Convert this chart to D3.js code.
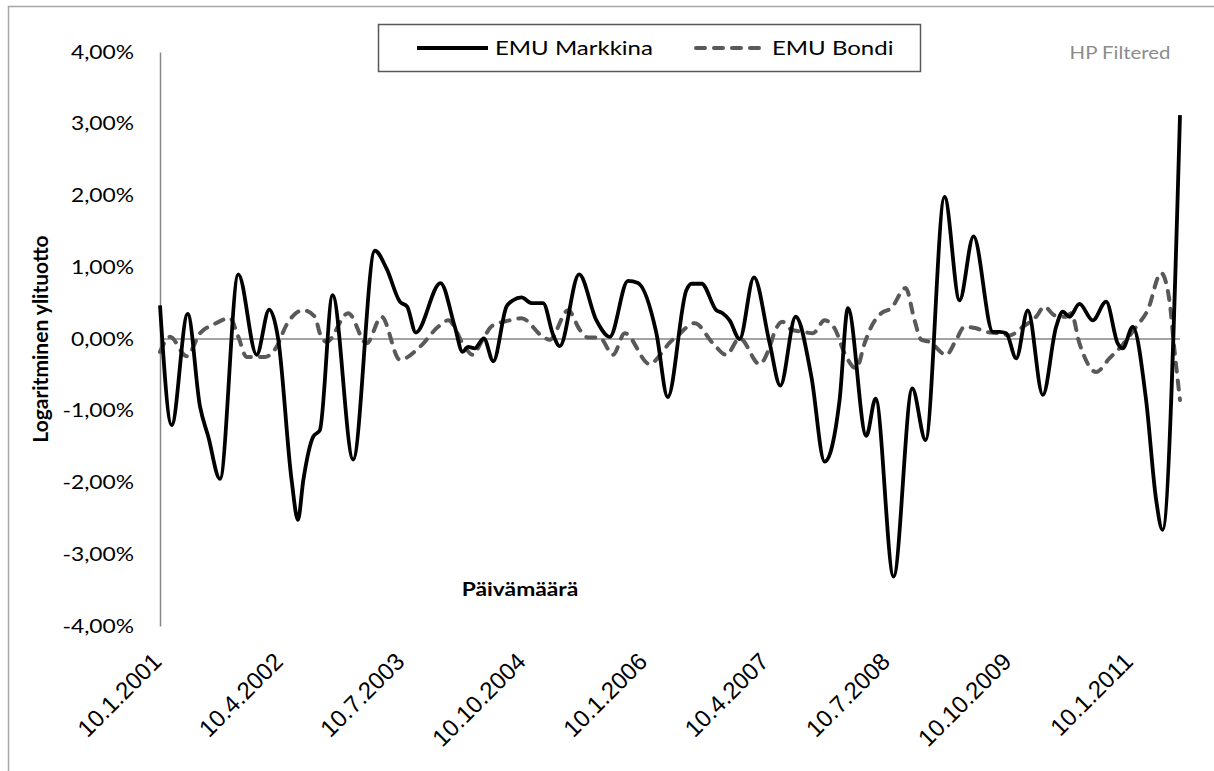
<!DOCTYPE html>
<html>
<head>
<meta charset="utf-8">
<script src="https://cdn.jsdelivr.net/npm/d3@7"></script>
<style>
  body { margin: 0; background: #fff; }
  svg { display: block; }
</style>
</head>
<body>
<div id="chart"></div>
<script>
// x positions are months counted from 10.1.2001
const tickMonths = [0, 15, 30, 45, 60, 75, 90, 105, 120];
const tickLabels = ["10.1.2001", "10.4.2002", "10.7.2003", "10.10.2004", "10.1.2006",
                    "10.4.2007", "10.7.2008", "10.10.2009", "10.1.2011"];
const yTicks = [-4, -3, -2, -1, 0, 1, 2, 3, 4];

// EMU Markkina (%)
const markkinaMonths = [0, 1.44, 3.42, 4.94, 5.96, 7.41, 9.67, 11.94, 13.49, 14.6, 16.26, 17.04, 17.7, 18.93, 19.75,
  21.32, 23.86, 26.54, 27.99, 29.63, 30.53, 31.6, 34.65, 36.42, 37.37, 38.06, 38.89, 40.0, 41.17,
  42.8, 43.62, 44.65, 45.89, 47.32, 48.56, 49.38, 51.77, 53.91, 55.56, 57.81, 59.05, 61.32, 62.72,
  65.02, 65.68, 66.91, 68.73, 69.5, 70.37, 71.6, 73.37, 75.31, 76.63, 78.52, 80.46, 82.1, 83.95,
  84.98, 87.25, 88.4, 90.62, 92.93, 94.57, 96.91, 98.77, 100.49, 102.88, 103.7, 104.53, 105.77,
  107.2, 109.05, 110.7, 111.52, 112.35, 113.58, 115.22, 116.88, 118.3, 118.92, 120.16, 121.81,
  123.05, 123.83, 126];
const markkinaValues = [0.47, -1.20, 0.35, -0.94, -1.36, -1.95, 0.90, -0.22, 0.41, 0.0, -1.97, -2.52, -1.97, -1.36, -1.27,
  0.61, -1.68, 1.23, 0.98, 0.52, 0.45, 0.09, 0.78, 0.17, -0.18, -0.11, -0.13, 0.01, -0.31,
  0.45, 0.54, 0.58, 0.50, 0.50, 0.06, -0.10, 0.90, 0.26, 0.03, 0.81, 0.78, 0.08, -0.81,
  0.68, 0.77, 0.77, 0.40, 0.36, 0.26, 0.0, 0.86, -0.06, -0.65, 0.31, -0.52, -1.71, -0.85,
  0.43, -1.35, -0.83, -3.31, -0.69, -1.41, 1.98, 0.54, 1.43, 0.10, 0.10, 0.08, -0.27,
  0.40, -0.78, 0.17, 0.38, 0.31, 0.49, 0.26, 0.52, -0.06, -0.13, 0.17, -0.85,
  -2.24, -2.66, 3.12];

// EMU Bondi (%)
const bondiMonths = [0, 1.23, 3.3, 4.94, 6.58, 8.64, 9.67, 10.7, 12.96, 14.4, 15.64, 17.69, 19.14, 19.75, 20.58,
  23.25, 25.52, 27.37, 29.63, 32.1, 34.36, 35.59, 37.65, 38.6, 39.91, 40.99, 43.21, 44.65, 47.32,
  48.15, 50.41, 51.85, 52.88, 54.3, 55.96, 57.41, 60.49, 61.94, 62.96, 63.79, 66.05, 68.31, 69.96,
  71.6, 74.07, 75.31, 75.93, 76.88, 77.99, 79.42, 80.65, 82.1, 83.33, 84.57, 86.01, 87.04, 87.86,
  89.1, 90.33, 92.1, 93.21, 94.04, 95.06, 97.12, 98.36, 99.38, 100.83, 102.06, 103.7, 104.94,
  106.58, 108.23, 109.26, 110.5, 111.94, 112.56, 113.58, 115.64, 117.28, 118.92, 120.58, 122.0,
  123.67, 124.69, 125.31, 126];
const bondiValues = [-0.18, 0.03, -0.24, 0.08, 0.20, 0.29, 0.03, -0.25, -0.25, -0.11, 0.20, 0.40, 0.31, 0.08, -0.04,
  0.36, -0.06, 0.31, -0.29, -0.11, 0.17, 0.26, -0.11, -0.22, 0.0, 0.18, 0.26, 0.29, 0.03,
  -0.01, 0.40, 0.13, 0.02, 0.02, -0.22, 0.08, -0.35, -0.20, -0.05, 0.03, 0.22, -0.06, -0.22,
  0.01, -0.35, -0.11, 0.10, 0.24, 0.13, 0.10, 0.08, 0.26, 0.15, -0.20, -0.41, -0.06, 0.17,
  0.36, 0.43, 0.71, 0.26, -0.01, -0.04, -0.22, -0.01, 0.17, 0.15, 0.10, 0.08, 0.05,
  0.17, 0.31, 0.45, 0.33, 0.31, 0.36, -0.06, -0.46, -0.27, -0.08, 0.17, 0.40,
  0.92, 0.54, -0.15, -0.85];

const width = 1214, height = 771;
const margin = { left: 160, right: 34, top: 52, bottom: 145 };
const textFont = "Lato, sans-serif";
const wide = 1.2; // the picture's text is a bit wider than Lato

const svg = d3.select("#chart").append("svg")
    .attr("width", width)
    .attr("height", height);

// outer chart border
svg.append("rect")
    .attr("x", 8.5).attr("y", 6.5)
    .attr("width", width + 20).attr("height", height + 20)
    .attr("fill", "none")
    .attr("stroke", "#a6a6a6")
    .attr("stroke-width", 1.5);

const x = d3.scaleLinear()
    .domain([0, 126])
    .range([margin.left, width - margin.right]);

const y = d3.scaleLinear()
    .domain([-4, 4])
    .range([height - margin.bottom, margin.top]);

const fmt = d => d.toFixed(2).replace(".", ",") + "%";

// y axis
const yAxis = svg.append("g")
    .attr("transform", `translate(${margin.left},0)`)
    .call(d3.axisLeft(y).tickValues(yTicks).tickSize(0).tickFormat(fmt));
yAxis.select(".domain").attr("stroke", "#868686").attr("stroke-width", 1.5);
yAxis.selectAll(".tick text")
    .attr("x", 0)
    .attr("transform", `translate(-26,0) scale(${wide},1)`)
    .attr("font-family", textFont)
    .attr("font-size", 19)
    .attr("fill", "#000");

// zero line
svg.append("line")
    .attr("x1", x(0)).attr("x2", x(126))
    .attr("y1", y(0)).attr("y2", y(0))
    .attr("stroke", "#868686")
    .attr("stroke-width", 1.5);

// x tick labels, rotated
svg.append("g").selectAll("text")
    .data(tickMonths)
    .enter()
  .append("text")
    .attr("transform", function(d) { return `translate(${x(d) + 3},663) rotate(-45)`; })
    .attr("text-anchor", "end")
    .attr("font-family", "Liberation Sans, Arial, sans-serif")
    .attr("font-size", 24)
    .text(function(d, i) { return tickLabels[i]; });

const line = d3.line()
    .x(function(d) { return x(d[0]); })
    .y(function(d) { return y(d[1]); })
    .curve(d3.curveMonotoneX);

const bondi = bondiMonths.map(function(m, i) { return [m, bondiValues[i]]; });
const markkina = markkinaMonths.map(function(m, i) { return [m, markkinaValues[i]]; });

svg.append("path")
    .datum(bondi)
    .attr("d", line)
    .attr("fill", "none")
    .attr("stroke", "#595959")
    .attr("stroke-width", 4)
    .attr("stroke-linecap", "round")
    .attr("stroke-dasharray", "9,9");

svg.append("path")
    .datum(markkina)
    .attr("d", line)
    .attr("fill", "none")
    .attr("stroke", "#000")
    .attr("stroke-width", 3.8)
    .attr("stroke-linejoin", "round");

// axis titles
svg.append("text")
    .attr("transform", `translate(48,${y(0)}) rotate(-90)`)
    .attr("text-anchor", "middle")
    .attr("font-family", textFont)
    .attr("font-weight", "bold")
    .attr("font-size", 21)
    .text("Logaritminen ylituotto");

svg.append("text")
    .attr("transform", `translate(520,596) scale(${wide},1)`)
    .attr("text-anchor", "middle")
    .attr("font-family", textFont)
    .attr("font-weight", "bold")
    .attr("font-size", 19)
    .text("Päivämäärä");

svg.append("text")
    .attr("transform", `translate(1120,59) scale(${wide},1)`)
    .attr("text-anchor", "middle")
    .attr("font-family", textFont)
    .attr("font-size", 17)
    .attr("fill", "#8c8c8c")
    .text("HP Filtered");

// legend
const legend = svg.append("g");
legend.append("rect")
    .attr("x", 378.5).attr("y", 24.5)
    .attr("width", 542).attr("height", 47)
    .attr("fill", "#fff")
    .attr("stroke", "#595959")
    .attr("stroke-width", 1.5);
legend.append("line")
    .attr("x1", 417).attr("x2", 488).attr("y1", 48).attr("y2", 48)
    .attr("stroke", "#000").attr("stroke-width", 3.8);
legend.append("text")
    .attr("transform", `translate(495,55) scale(${wide},1)`)
    .attr("font-family", textFont)
    .attr("font-size", 20)
    .text("EMU Markkina");
legend.append("line")
    .attr("x1", 696).attr("x2", 764).attr("y1", 48).attr("y2", 48)
    .attr("stroke", "#595959").attr("stroke-width", 4)
    .attr("stroke-linecap", "round")
    .attr("stroke-dasharray", "9,9");
legend.append("text")
    .attr("transform", `translate(772,55) scale(${wide},1)`)
    .attr("font-family", textFont)
    .attr("font-size", 20)
    .text("EMU Bondi");
</script>
</body>
</html>
